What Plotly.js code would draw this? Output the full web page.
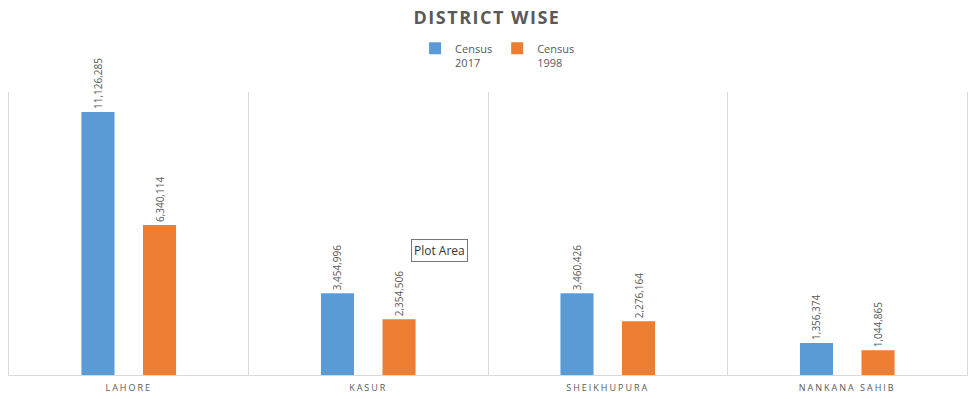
<!DOCTYPE html>
<html>
<head>
<meta charset="utf-8">
<script src="https://cdn.plot.ly/plotly-3.0.1.min.js"></script>
<style>
html,body{margin:0;padding:0;background:#fff;}
#chart{width:974px;height:399px;}
.xtick text{letter-spacing:2px;}
.gtitle{letter-spacing:1.5px;}
</style>
</head>
<body>
<div id="chart"></div>
<script>
const districts = ["LAHORE", "KASUR", "SHEIKHUPURA", "NANKANA SAHIB"];
const census2017 = [11126285, 3454996, 3460426, 1356374];
const census1998 = [6340114, 2354506, 2276164, 1044865];
const seriesNames = ["Census<br>2017", "Census<br>1998"];

const fmt = v => v.toLocaleString("en-US");
const labelFont = {family: "Open Sans, sans-serif", size: 10, color: "#595959"};

const traces = [
  {type: "bar", name: seriesNames[0], x: districts, y: census2017,
   marker: {color: "#5B9BD5"}, text: census2017.map(fmt),
   textposition: "outside", textangle: -90, textfont: labelFont, constraintext: "none",
   cliponaxis: false, hoverinfo: "none"},
  {type: "bar", name: seriesNames[1], x: districts, y: census1998,
   marker: {color: "#ED7D31"}, text: census1998.map(fmt),
   textposition: "outside", textangle: -90, textfont: labelFont, constraintext: "none",
   cliponaxis: false, hoverinfo: "none"}
];

const layout = {
  width: 974, height: 399,
  margin: {l: 9, r: 7, t: 92, b: 24, autoexpand: false},
  paper_bgcolor: "#fff", plot_bgcolor: "#fff",
  font: {family: "Open Sans, sans-serif", color: "#595959"},
  title: {text: "DISTRICT WISE", x: 0.5, xanchor: "center", y: 0.955, yanchor: "middle",
          font: {family: "Open Sans, sans-serif", size: 18, weight: "bold", color: "#595959"}},
  barmode: "group", bargap: 0.486, bargroupgap: 0.463,
  showlegend: true,
  legend: {orientation: "h", x: 0.51, xanchor: "center", xref: "paper",
           y: 0.913, yanchor: "top", yref: "container", valign: "top",
           font: {family: "Open Sans, sans-serif", size: 11, color: "#595959"},
           itemwidth: 30, tracegroupgap: 0},
  xaxis: {type: "category", range: [-0.5, 3.5], tickson: "boundaries",
          showgrid: true, gridcolor: "#d9d9d9", gridwidth: 1,
          showline: true, linecolor: "#d9d9d9", linewidth: 1,
          ticks: "", ticklabelstandoff: 4,
          tickfont: {family: "Open Sans, sans-serif", size: 9, color: "#595959"},
          fixedrange: true},
  yaxis: {range: [0, 11970000], showgrid: false, zeroline: false,
          showticklabels: false, ticks: "", showline: true, mirror: true,
          linecolor: "#d9d9d9", linewidth: 1, fixedrange: true},
  annotations: [
    {text: "Plot Area", xref: "paper", yref: "paper", x: 0.420, y: 0.44,
     xanchor: "left", yanchor: "middle", showarrow: false,
     font: {family: "Open Sans, sans-serif", size: 12, color: "#333"},
     bgcolor: "#ffffff", bordercolor: "#767676", borderwidth: 1, borderpad: 2}
  ]
};

Plotly.newPlot("chart", traces, layout, {displayModeBar: false, staticPlot: true});
</script>
</body>
</html>
